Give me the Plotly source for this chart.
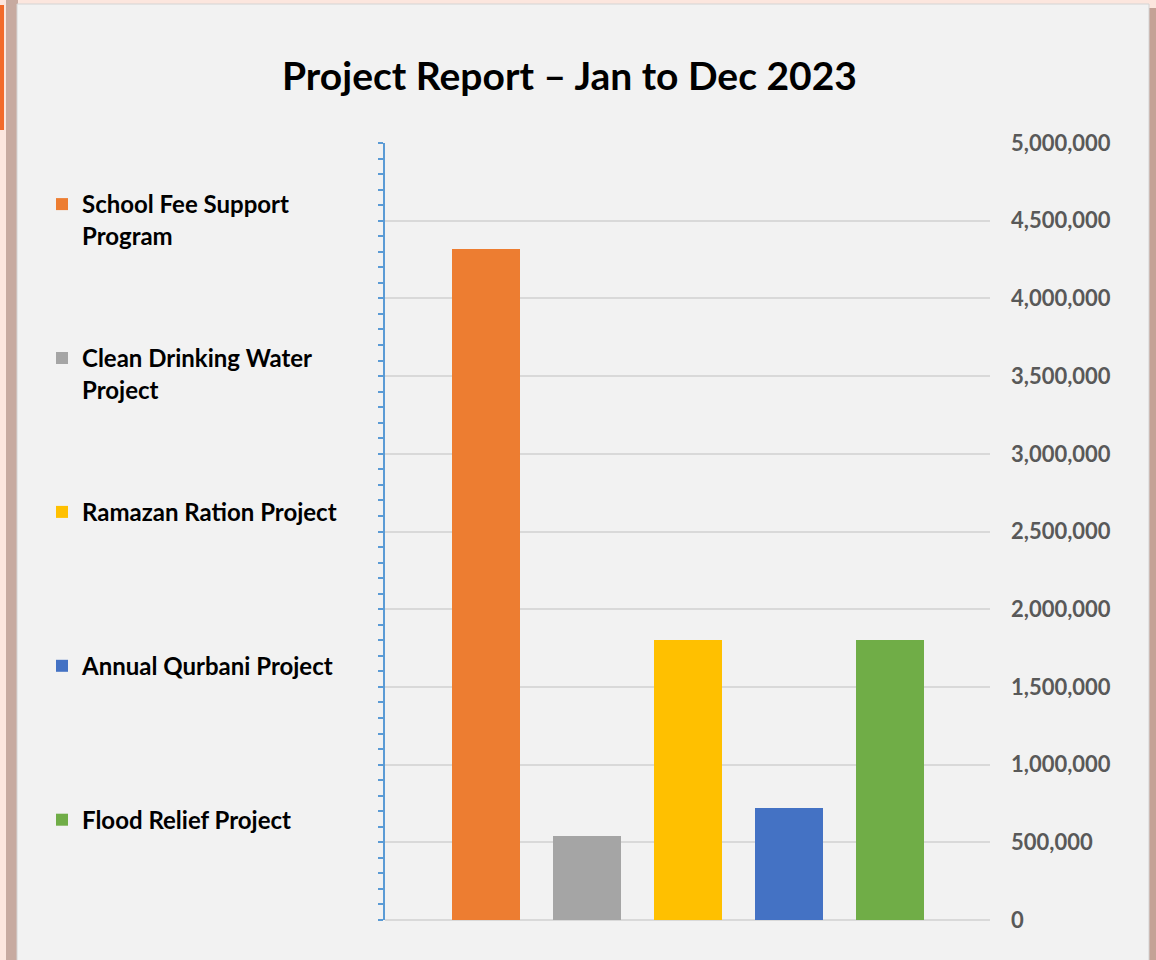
import plotly.graph_objects as go

# ---- data ----
categories = ["School Fee Support Program", "Clean Drinking Water Project",
              "Ramazan Ration Project", "Annual Qurbani Project", "Flood Relief Project"]
legend_labels = ["School Fee Support<br>Program", "Clean Drinking Water<br>Project",
                 "Ramazan Ration Project<br> ", "Annual Qurbani Project<br> ",
                 "Flood Relief Project<br> "]
values = [4320000, 540000, 1800000, 720000, 1800000]
colors = ["#ED7D31", "#A5A5A5", "#FFC000", "#4472C4", "#70AD47"]
y_ticks = [0, 500000, 1000000, 1500000, 2000000, 2500000,
           3000000, 3500000, 4000000, 4500000, 5000000]
title_text = "Project Report \u2013 Jan to Dec 2023"

# ---- layout geometry ----
W, H = 1156, 960
ML, MR, MT, MB = 385, 166, 143, 40
PW, PH = W - ML - MR, H - MT - MB


def px(x):
    return (x - ML) / PW


def py(y):
    return 1 - (y - MT) / PH


FONT = "Lato, 'Open Sans', sans-serif"

fig = go.Figure()
for lab, name, v, c in zip(legend_labels, categories, values, colors):
    fig.add_trace(go.Bar(
        x=[name], y=[v], name=lab, marker=dict(color=c, line=dict(width=0)),
        width=0.673, legendgroup=name, hovertemplate=name + ": %{y:,}<extra></extra>"))

# invisible trace to carry the left (blue) axis
fig.add_trace(go.Scatter(x=[categories[0]], y=[0], yaxis="y2", mode="markers",
                         marker=dict(opacity=0), showlegend=False, hoverinfo="skip"))

shapes = [
    # shadow strips
    dict(type="rect", xref="paper", yref="paper", x0=px(6), x1=px(18), y0=py(0), y1=py(960),
         fillcolor="#c7aaa0", line=dict(width=0), layer="below"),
    dict(type="rect", xref="paper", yref="paper", x0=px(1148), x1=px(1156), y0=py(8), y1=py(960),
         fillcolor="#c4a296", line=dict(width=0), layer="below"),
    # orange block top-left
    dict(type="rect", xref="paper", yref="paper", x0=px(0), x1=px(4), y0=py(5), y1=py(130),
         fillcolor="#F26A2A", line=dict(width=0), layer="below"),
    # chart frame
    dict(type="rect", xref="paper", yref="paper", x0=px(17), x1=px(1149), y0=py(4), y1=py(965),
         fillcolor="#F2F2F2", line=dict(color="#D4D4D4", width=1), layer="below"),
]

fig.update_layout(
    width=W, height=H,
    margin=dict(l=ML, r=MR, t=MT, b=MB, autoexpand=False),
    paper_bgcolor="#FCE6DE", plot_bgcolor="#F2F2F2",
    barmode="overlay", bargap=0,
    shapes=shapes,
    title=dict(text=title_text, x=569.5 / W, xanchor="center", xref="container",
               y=1 - 76 / H, yanchor="middle", yref="container",
               font=dict(family=FONT, size=39, weight=700, color="#000000")),
    xaxis=dict(type="category", categoryorder="array", categoryarray=categories,
               range=[-1.0, 4.99], showticklabels=False, showgrid=False,
               zeroline=False, showline=False, ticks=""),
    yaxis=dict(side="right", range=[0, 5000000], tickvals=y_ticks, tickformat=",",
               showgrid=True, gridcolor="#D9D9D9", gridwidth=1.5,
               zeroline=True, zerolinecolor="#D9D9D9", zerolinewidth=1.5,
               showline=False, ticks="", ticklabelstandoff=20,
               tickfont=dict(family=FONT, size=22, weight=700, color="#595959")),
    yaxis2=dict(overlaying="y", side="left", range=[0, 5000000], showgrid=False,
                zeroline=False, showline=True, linecolor="#5B9BD5", linewidth=2,
                ticks="outside", tick0=0, dtick=100000, ticklen=5, tickwidth=2,
                tickcolor="#5B9BD5", showticklabels=False),
    legend=dict(x=px(42), xanchor="left", y=py(182), yanchor="top",
                bgcolor="rgba(0,0,0,0)", borderwidth=0, valign="top",
                traceorder="grouped", tracegroupgap=88.5,
                font=dict(family=FONT, size=24, weight=700, color="#000000")),
    showlegend=True,
)

fig.write_html("out.html", config={"displayModeBar": False},
               post_script="document.body.style.margin='0px';document.body.style.overflow='hidden';")
